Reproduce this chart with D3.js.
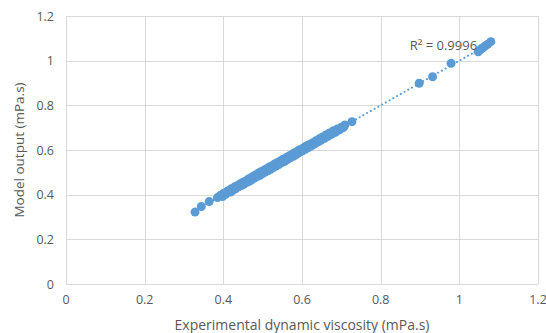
<!DOCTYPE html>
<html>
<head>
<meta charset="utf-8">
<script src="https://cdn.jsdelivr.net/npm/d3@7"></script>
<style>
  html, body { margin: 0; padding: 0; background: #fff; }
  text { font-family: "Open Sans", "Liberation Sans", sans-serif; fill: #595959; }
</style>
</head>
<body>
<div id="chart"></div>
<script>
// measured viscosity vs model output (mPa.s)
const expValues = [
  0.328, 0.344, 0.364, 0.385, 0.392, 0.398, 0.401, 0.405, 0.410, 0.413,
  0.418, 0.420, 0.424, 0.428, 0.431, 0.435, 0.440, 0.443, 0.447, 0.450,
  0.452, 0.456, 0.460, 0.463, 0.466, 0.470, 0.472, 0.476, 0.480, 0.483,
  0.487, 0.490, 0.493, 0.497, 0.500, 0.503, 0.506, 0.510, 0.513, 0.517,
  0.520, 0.524, 0.527, 0.530, 0.534, 0.538, 0.541, 0.545, 0.548, 0.552,
  0.556, 0.560, 0.563, 0.567, 0.570, 0.574, 0.578, 0.581, 0.585, 0.589,
  0.592, 0.596, 0.600, 0.604, 0.608, 0.611, 0.615, 0.619, 0.623, 0.627,
  0.631, 0.635, 0.640, 0.644, 0.648, 0.652, 0.657, 0.661, 0.666, 0.670,
  0.675, 0.680, 0.685, 0.690, 0.695, 0.700, 0.705, 0.709, 0.727,
  0.898, 0.932, 0.979, 1.048, 1.055, 1.060, 1.066, 1.072, 1.080
];
const modelValues = [
  0.322, 0.347, 0.369, 0.387, 0.396, 0.392, 0.406, 0.400, 0.415, 0.417,
  0.412, 0.426, 0.419, 0.434, 0.426, 0.440, 0.436, 0.449, 0.442, 0.456,
  0.447, 0.460, 0.455, 0.469, 0.460, 0.476, 0.467, 0.482, 0.475, 0.489,
  0.482, 0.497, 0.487, 0.504, 0.494, 0.509, 0.501, 0.516, 0.507, 0.524,
  0.514, 0.530, 0.521, 0.537, 0.528, 0.544, 0.535, 0.551, 0.543, 0.559,
  0.549, 0.566, 0.557, 0.573, 0.565, 0.580, 0.572, 0.588, 0.579, 0.595,
  0.587, 0.602, 0.595, 0.610, 0.603, 0.618, 0.610, 0.625, 0.618, 0.633,
  0.626, 0.641, 0.635, 0.650, 0.643, 0.658, 0.652, 0.667, 0.661, 0.676,
  0.670, 0.686, 0.679, 0.694, 0.690, 0.702, 0.700, 0.712, 0.727,
  0.899, 0.928, 0.988, 1.040, 1.052, 1.058, 1.066, 1.073, 1.085
];
const xTicks = [0, 0.2, 0.4, 0.6, 0.8, 1, 1.2];
const yTicks = [0, 0.2, 0.4, 0.6, 0.8, 1, 1.2];
const xTitle = "Experimental dynamic viscosity (mPa.s)";
const yTitle = "Model output (mPa.s)";

const W = 546, H = 333;
const margin = { top: 16, right: 8, bottom: 49, left: 66 };
const width = W - margin.left - margin.right;
const height = H - margin.top - margin.bottom;

const svg = d3.select("#chart").append("svg")
  .attr("width", W)
  .attr("height", H);

const g = svg.append("g")
  .attr("transform", `translate(${margin.left},${margin.top})`);

const x = d3.scaleLinear().domain([0, 1.2]).range([0, width]);
const y = d3.scaleLinear().domain([0, 1.2]).range([height, 0]);

// gridlines
g.append("g")
  .selectAll("line.v")
  .data(xTicks)
  .join("line")
  .attr("x1", d => Math.round(x(d)) + 0.5)
  .attr("x2", d => Math.round(x(d)) + 0.5)
  .attr("y1", 0)
  .attr("y2", height)
  .attr("stroke", "#d9d9d9");

g.append("g")
  .selectAll("line.h")
  .data(yTicks)
  .join("line")
  .attr("x1", 0)
  .attr("x2", width)
  .attr("y1", d => Math.round(y(d)) + 0.5)
  .attr("y2", d => Math.round(y(d)) + 0.5)
  .attr("stroke", "#d9d9d9");

// tick labels
g.append("g")
  .selectAll("text")
  .data(xTicks)
  .join("text")
  .attr("x", d => x(d))
  .attr("y", height + 20)
  .attr("text-anchor", "middle")
  .attr("font-size", 12.5)
  .text(d => d3.format("~g")(d));

g.append("g")
  .selectAll("text")
  .data(yTicks)
  .join("text")
  .attr("x", -12)
  .attr("y", d => y(d) + 4.5)
  .attr("text-anchor", "end")
  .attr("font-size", 12.5)
  .text(d => d3.format("~g")(d));

// axis titles
svg.append("text")
  .attr("x", margin.left + width / 2)
  .attr("y", H - 3)
  .attr("text-anchor", "middle")
  .attr("font-size", 14)
  .text(xTitle);

svg.append("text")
  .attr("transform", `translate(24,${margin.top + height / 2}) rotate(-90)`)
  .attr("text-anchor", "middle")
  .attr("font-size", 13.5)
  .text(yTitle);

const pts = expValues.map((v, i) => ({ x: v, y: modelValues[i] }));

// linear trendline
const mx = d3.mean(pts, d => d.x), my = d3.mean(pts, d => d.y);
const sxy = d3.sum(pts, d => (d.x - mx) * (d.y - my));
const sxx = d3.sum(pts, d => (d.x - mx) ** 2);
const slope = sxy / sxx, icpt = my - slope * mx;
const [xmin, xmax] = d3.extent(pts, d => d.x);

g.append("line")
  .attr("x1", x(xmin)).attr("y1", y(icpt + slope * xmin))
  .attr("x2", x(xmax)).attr("y2", y(icpt + slope * xmax))
  .attr("stroke", "#5b9bd5")
  .attr("stroke-width", 2)
  .attr("stroke-linecap", "round")
  .attr("stroke-dasharray", "0.1,4.2");

// points
g.append("g")
  .selectAll("circle")
  .data(pts)
  .join("circle")
  .attr("cx", d => x(d.x))
  .attr("cy", d => y(d.y))
  .attr("r", 4.5)
  .attr("fill", "#5b9bd5");

// R² label
g.append("text")
  .attr("x", x(0.874))
  .attr("y", y(1.0) - 11)
  .attr("font-size", 13)
  .text("R² = 0.9996");
</script>
</body>
</html>
